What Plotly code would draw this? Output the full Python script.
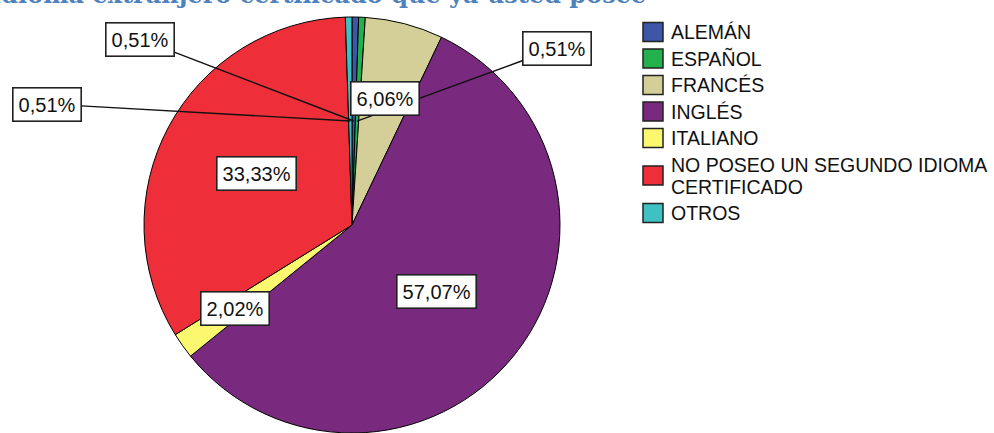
import math
import plotly.graph_objects as go

# ---------------- data ----------------
labels = ["ALEMÁN", "ESPAÑOL", "FRANCÉS", "INGLÉS", "ITALIANO",
          "NO POSEO UN SEGUNDO IDIOMA<br>CERTIFICADO", "OTROS"]
percents = [0.51, 0.51, 6.06, 57.07, 2.02, 33.33, 0.51]
pct_text = ["0,51%", "0,51%", "6,06%", "57,07%", "2,02%", "33,33%", "0,51%"]
colors = ["#3D56A8", "#22B14C", "#D4CF98", "#7A2A7E", "#FBF870", "#EE2F3A", "#3FC0C3"]
title_text = "Idioma extranjero certificado que ya usted posee"

# ---------------- layout geometry (pixels) ----------------
W, H = 994, 433
CX, CY, R = 352, 225, 208          # pie centre / radius in px (CY from top)
MT, MB = CY - R, max(0, H - (CY + R))
# label placement: radius fraction for big slices, box position (px) for tiny ones
label_r = {"FRANCÉS": 0.63, "INGLÉS": 0.52, "ITALIANO": 0.69,
           "NO POSEO UN SEGUNDO IDIOMA<br>CERTIFICADO": 0.52}
tiny_box = {"ALEMÁN": (140, 39), "ESPAÑOL": (557, 48), "OTROS": (47, 104)}

def px2paper(x, y):
    return x / W, (H - MB - y) / (H - MT - MB)

fig = go.Figure()
fig.add_trace(go.Pie(
    labels=labels, values=percents, sort=False, direction="clockwise", rotation=0,
    marker=dict(colors=colors, line=dict(color="#000000", width=1)),
    textinfo="none", hoverinfo="label+percent", showlegend=False,
    domain=dict(x=[(CX - R) / W, (CX + R) / W], y=[0, 1]),
))

annotations = []
shapes = []
LABEL_FONT = dict(family="Liberation Sans, Arial, sans-serif", size=20, color="#111111")
total = sum(percents)
cum = 0.0
for lab, p, txt in zip(labels, percents, pct_text):
    mid = (cum + p / 2) / total * 2 * math.pi
    cum += p
    if lab in tiny_box:
        px = CX + 0.5 * R * math.sin(mid)
        py = CY - 0.5 * R * math.cos(mid)
        bx, by = tiny_box[lab]
        x, y = px2paper(px, py)
        annotations.append(dict(
            x=x, y=y, xref="paper", yref="paper", text=txt, showarrow=True,
            arrowhead=0, arrowwidth=1.4, arrowcolor="#111111",
            ax=bx - px, ay=by - py, axref="pixel", ayref="pixel",
            font=LABEL_FONT, bgcolor="white", bordercolor="#222222",
            borderwidth=1.6, borderpad=5, standoff=0, startstandoff=0))
    else:
        rf = label_r.get(lab, 0.52)
        px = CX + rf * R * math.sin(mid)
        py = CY - rf * R * math.cos(mid)
        x, y = px2paper(px, py)
        annotations.append(dict(
            x=x, y=y, xref="paper", yref="paper", text=txt, showarrow=False,
            font=LABEL_FONT, bgcolor="white", bordercolor="#222222",
            borderwidth=1.6, borderpad=5, xanchor="center", yanchor="middle"))

# ---------------- custom legend ----------------
LEG_FONT = dict(family="Liberation Sans, Arial, sans-serif", size=19.5, color="#111111")
row_y = 32
for lab, col in zip(labels, colors):
    lines = lab.split("<br>")
    if len(lines) > 1:
        row_y += 11
        centre = row_y
        line_ys = [centre - 11, centre + 11]
    else:
        centre = row_y
        line_ys = [centre]
    x0, y0 = px2paper(643, centre - 9.5)
    x1, y1 = px2paper(663, centre + 9.5)
    shapes.append(dict(type="rect", xref="paper", yref="paper", x0=x0, x1=x1,
                       y0=y1, y1=y0, fillcolor=col,
                       line=dict(color="#222222", width=1.5)))
    for ln, ly in zip(lines, line_ys):
        tx, ty = px2paper(669, ly)
        annotations.append(dict(x=tx, y=ty, xref="paper", yref="paper", text=ln,
                                showarrow=False, xanchor="left", yanchor="middle",
                                font=LEG_FONT))
    row_y += 26.5 if len(lines) == 1 else 37.5

# ---------------- clipped title remnant (top of page is cut in the reference) ----------------
tx, ty = px2paper(-12, 11)
annotations.append(dict(x=tx, y=ty, xref="paper", yref="paper", text="<b>" + title_text + "</b>",
                        showarrow=False, xanchor="left", yanchor="bottom",
                        font=dict(family="DejaVu Serif, Liberation Serif, serif", size=24,
                                  color="#4F81BD")))

fig.update_layout(
    width=W, height=H, margin=dict(l=0, r=0, t=MT, b=MB),
    paper_bgcolor="white", plot_bgcolor="white",
    annotations=annotations, shapes=shapes, showlegend=False,
)
fig.write_html("out.html", config={"displayModeBar": False},
               post_script="document.body.style.margin='0';")
